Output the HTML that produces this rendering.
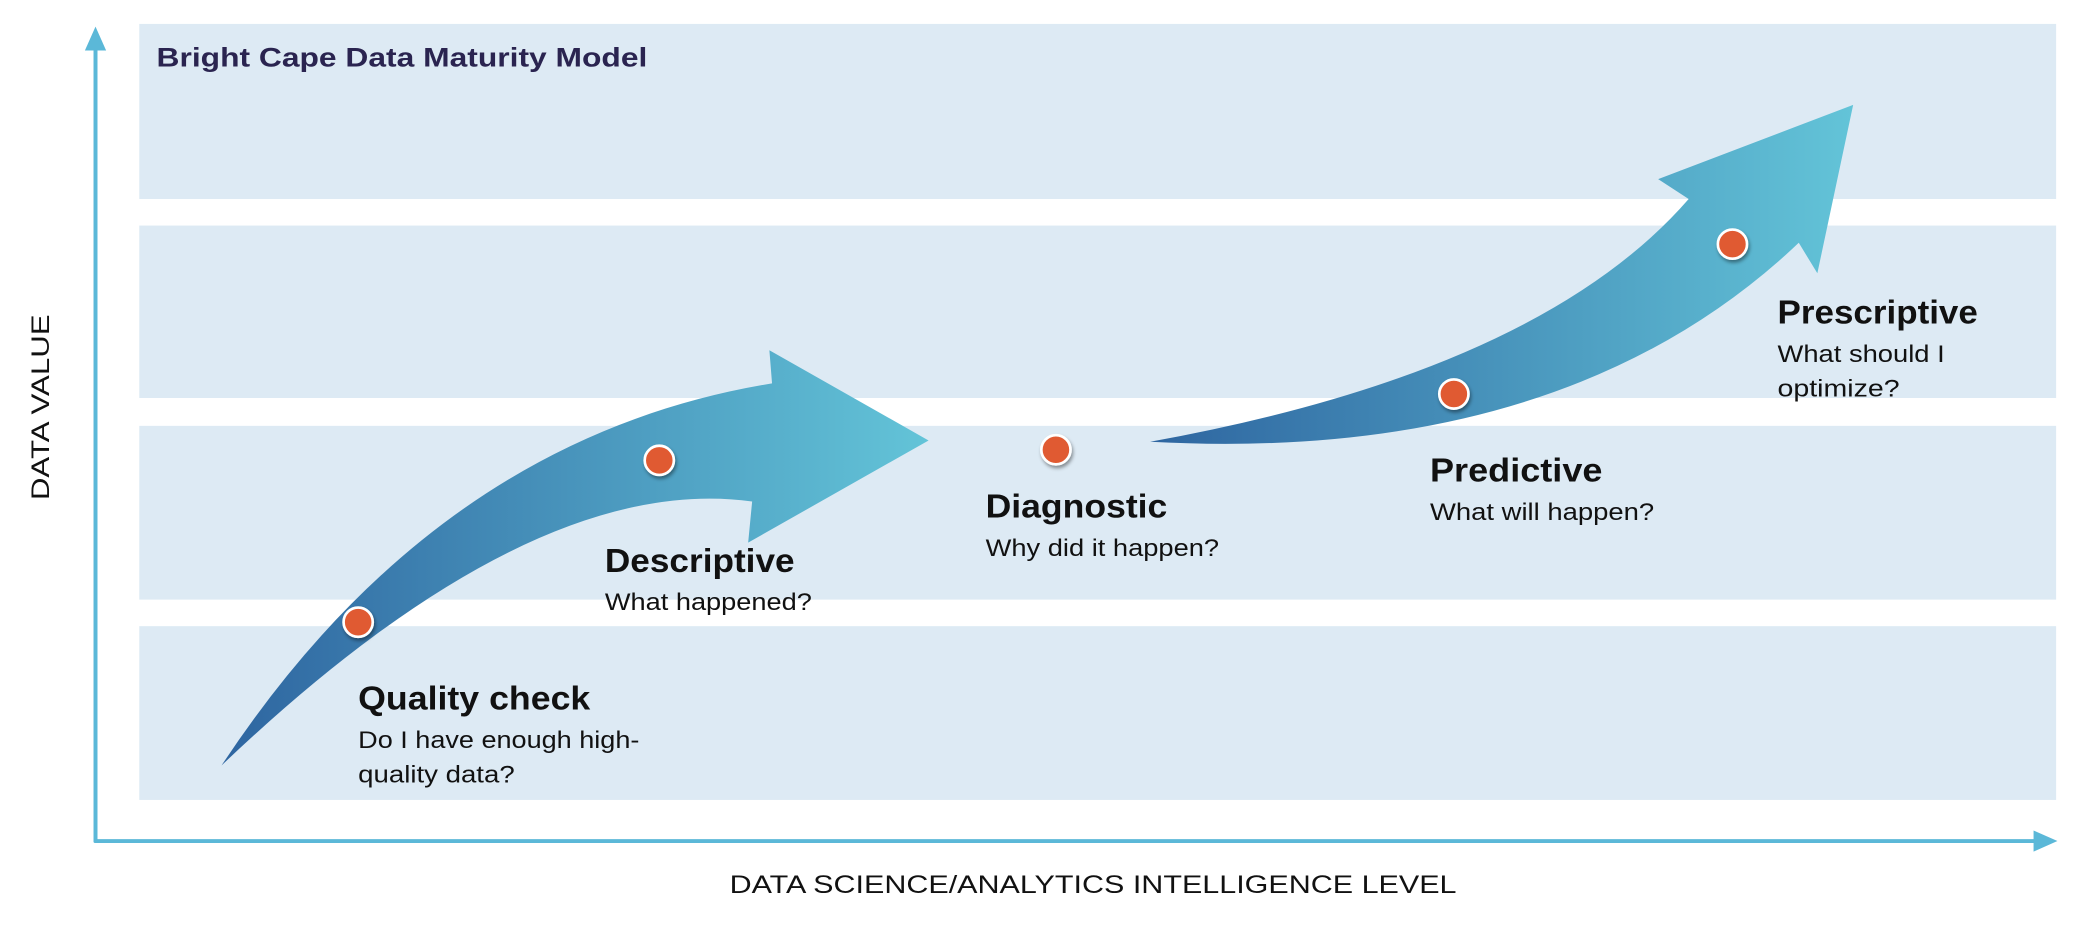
<!DOCTYPE html>
<html><head><meta charset="utf-8"><style>
html,body{margin:0;padding:0;background:#fff;}
svg{display:block;}
text{font-family:"Liberation Sans",sans-serif;}
</style></head><body>
<svg width="2080" height="926" viewBox="0 0 1568 698" xmlns="http://www.w3.org/2000/svg">
<defs>
<linearGradient id="g1" x1="167" y1="0" x2="700" y2="0" gradientUnits="userSpaceOnUse">
<stop offset="0" stop-color="#2e65a0"/><stop offset="1" stop-color="#63c4d8"/></linearGradient>
<linearGradient id="g2" x1="867" y1="0" x2="1397" y2="0" gradientUnits="userSpaceOnUse">
<stop offset="0" stop-color="#2e65a0"/><stop offset="1" stop-color="#63c4d8"/></linearGradient>
<filter id="sh" x="-50%" y="-50%" width="200%" height="200%"><feDropShadow dx="1" dy="2" stdDeviation="1.5" flood-color="#000" flood-opacity="0.4"/></filter>
</defs>
<rect x="105" y="18" width="1445" height="132" fill="#ddeaf4"/>
<rect x="105" y="170" width="1445" height="130" fill="#ddeaf4"/>
<rect x="105" y="321" width="1445" height="131" fill="#ddeaf4"/>
<rect x="105" y="472" width="1445" height="131" fill="#ddeaf4"/>
<line x1="72" y1="34" x2="72" y2="635" stroke="#5bb8d8" stroke-width="3"/>
<polygon points="64,38 80,38 72,20" fill="#5bb8d8"/>
<line x1="71" y1="634" x2="1536" y2="634" stroke="#5bb8d8" stroke-width="3"/>
<polygon points="1533,626 1533,642 1551,634" fill="#5bb8d8"/>
<path d="M167,577 Q330,330 582,289 L580,264 L700,332 L564,409 L567,378 Q400,355 167,577 Z" fill="url(#g1)"/>
<path d="M867,333 Q1160,280 1273,150 L1250,135 L1397,79 L1370,206 L1356,183 Q1180,350 867,333 Z" fill="url(#g2)"/>
<g fill="#e05a30" stroke="#fff" stroke-width="2" filter="url(#sh)">
<circle cx="270" cy="469" r="11"/><circle cx="497" cy="347" r="11"/><circle cx="796" cy="339" r="11"/><circle cx="1096" cy="297" r="11"/><circle cx="1306" cy="184" r="11"/>
</g>
<text x="118" y="50" font-size="20" font-weight="bold" fill="#2a2450" textLength="370" lengthAdjust="spacingAndGlyphs">Bright Cape Data Maturity Model</text>
<text transform="translate(37,307) rotate(-90)" x="-70" font-size="19" fill="#111" textLength="140" lengthAdjust="spacingAndGlyphs">DATA VALUE</text>
<text x="550" y="673" font-size="19" fill="#111" textLength="548" lengthAdjust="spacingAndGlyphs">DATA SCIENCE/ANALYTICS INTELLIGENCE LEVEL</text>
<g fill="#111" lengthAdjust="spacingAndGlyphs">
<text x="270" y="535" font-size="25" font-weight="bold" textLength="175" lengthAdjust="spacingAndGlyphs">Quality check</text>
<text x="270" y="564" font-size="18" textLength="212" lengthAdjust="spacingAndGlyphs">Do I have enough high-</text>
<text x="270" y="590" font-size="18" textLength="118" lengthAdjust="spacingAndGlyphs">quality data?</text>
<text x="456" y="431" font-size="25" font-weight="bold" textLength="143" lengthAdjust="spacingAndGlyphs">Descriptive</text>
<text x="456" y="460" font-size="18" textLength="156" lengthAdjust="spacingAndGlyphs">What happened?</text>
<text x="743" y="390" font-size="25" font-weight="bold" textLength="137" lengthAdjust="spacingAndGlyphs">Diagnostic</text>
<text x="743" y="419" font-size="18" textLength="176" lengthAdjust="spacingAndGlyphs">Why did it happen?</text>
<text x="1078" y="363" font-size="25" font-weight="bold" textLength="130" lengthAdjust="spacingAndGlyphs">Predictive</text>
<text x="1078" y="392" font-size="18" textLength="169" lengthAdjust="spacingAndGlyphs">What will happen?</text>
<text x="1340" y="244" font-size="25" font-weight="bold" textLength="151" lengthAdjust="spacingAndGlyphs">Prescriptive</text>
<text x="1340" y="273" font-size="18" textLength="126" lengthAdjust="spacingAndGlyphs">What should I</text>
<text x="1340" y="299" font-size="18" textLength="92" lengthAdjust="spacingAndGlyphs">optimize?</text>
</g>
</svg>
</body></html>
